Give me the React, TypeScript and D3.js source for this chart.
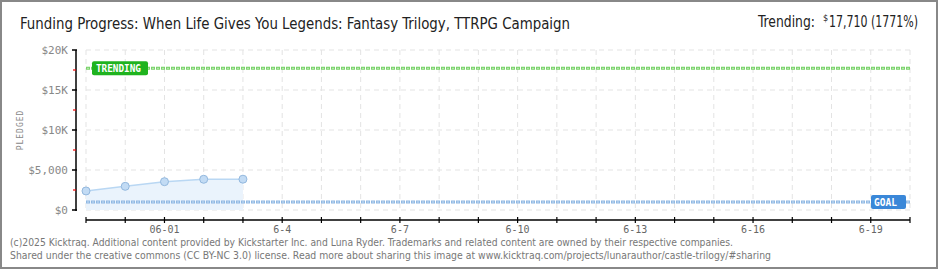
import React from "react";
import * as d3 from "d3";

const dates = ["5-30", "5-31", "6-1", "6-2", "6-3", "6-4", "6-5", "6-6", "6-7", "6-8", "6-9", "6-10", "6-11", "6-12", "6-13", "6-14", "6-15", "6-16", "6-17", "6-18", "6-19", "6-20"];
const pledged = [2380, 2960, 3540, 3840, 3850];
const xLabels: { i: number; t: string }[] = [
  { i: 2, t: "06-01" }, { i: 5, t: "6-4" }, { i: 8, t: "6-7" }, { i: 11, t: "6-10" },
  { i: 14, t: "6-13" }, { i: 17, t: "6-16" }, { i: 20, t: "6-19" },
];
const yTicks = [0, 5000, 10000, 15000, 20000];
const yTickLabels = ["$0", "$5,000", "$10K", "$15K", "$20K"];
const yMinor = [2500, 7500, 12500, 17500];
const goal = 1000;
const trending = 17710;

const W = 940, H = 270;
const x0 = 86, x1 = 910, y0 = 210, y1 = 50;

export default function App() {
  const x = d3.scaleLinear().domain([0, dates.length - 1]).range([x0, x1]);
  const y = d3.scaleLinear().domain([0, 20000]).range([y0, y1]);
  const area = d3.area<number>().x((_, i) => x(i)).y0(y(0)).y1((d) => y(d));
  const line = d3.line<number>().x((_, i) => x(i)).y((d) => y(d));
  const pixelFont = "'DejaVu Sans Mono', monospace";
  const headFont = "'DejaVu Sans Condensed', sans-serif";
  return (
    <svg width={W} height={H} style={{ position: "absolute", left: 0, top: 0, background: "#fff" }}>
      <rect x={1} y={1} width={936} height={267} fill="#fff" stroke="#888" strokeWidth={2} />
      <text x={20} y={29} fontFamily={headFont} fontSize={16} fill="#222"
        textLength={550} lengthAdjust="spacingAndGlyphs">
        Funding Progress: When Life Gives You Legends: Fantasy Trilogy, TTRPG Campaign
      </text>
      <text x={758} y={27} fontFamily={headFont} fontSize={15} fill="#222"
        textLength={57} lengthAdjust="spacingAndGlyphs">Trending:</text>
      <text x={823} y={21} fontFamily={headFont} fontSize={9} fill="#222">$</text>
      <text x={829} y={27} fontFamily={headFont} fontSize={15} fill="#222"
        textLength={89} lengthAdjust="spacingAndGlyphs">17,710 (1771%)</text>

      {/* grid */}
      {yTicks.map((v) => (
        <line key={"gy" + v} x1={x0} x2={x1} y1={y(v)} y2={y(v)} stroke="#e3e3e3" strokeDasharray="5,4" />
      ))}
      {dates.map((d, i) => (
        <line key={"gx" + d} x1={x(i)} x2={x(i)} y1={y1} y2={y0} stroke="#e3e3e3" strokeDasharray="5,4" />
      ))}

      {/* area */}
      <path d={area(pledged) || ""} fill="#eaf3fc" />
      <path d={line(pledged) || ""} fill="none" stroke="#b9d7f3" strokeWidth={1.5} />

      {/* goal line */}
      <line x1={x0} x2={x1} y1={y(goal)} y2={y(goal)} stroke="#8fb8e3" strokeWidth={3} strokeDasharray="4,1" />
      <line x1={x0} x2={x1} y1={y(goal)} y2={y(goal)} stroke="#c9def3" strokeWidth={1} strokeDasharray="2,3" strokeDashoffset={-1} />
      {/* trending line */}
      <line x1={x0} x2={x1} y1={y(trending)} y2={y(trending)} stroke="#79d26a" strokeWidth={3} strokeDasharray="4,1" />
      <line x1={x0} x2={x1} y1={y(trending)} y2={y(trending)} stroke="#bdebb4" strokeWidth={1} strokeDasharray="2,3" strokeDashoffset={-1} />

      {pledged.map((v, i) => (
        <circle key={"p" + i} cx={x(i)} cy={y(v)} r={4} fill="#c2dbf4" stroke="#93b8de" strokeWidth={1} />
      ))}

      {/* trending label */}
      <rect x={92} y={y(trending) - 7} width={56} height={14} rx={2} fill="#1fb31f" />
      <text x={96} y={y(trending) + 4} fontFamily={pixelFont} fontSize={10} fontWeight="bold" fill="#fff"
        textLength={45} lengthAdjust="spacingAndGlyphs">TRENDING</text>
      {/* goal label */}
      <rect x={871} y={y(goal) - 7} width={35} height={14} rx={2} fill="#3a87d8" />
      <text x={874} y={y(goal) + 4} fontFamily={pixelFont} fontSize={10} fontWeight="bold" fill="#fff"
        textLength={23} lengthAdjust="spacingAndGlyphs">GOAL</text>

      {/* y axis */}
      <line x1={76} x2={76} y1={y1} y2={y0 + 1} stroke="#000" strokeWidth={1.5} />
      {yTicks.map((v, i) => (
        <g key={"yt" + v}>
          <line x1={72} x2={77} y1={y(v)} y2={y(v)} stroke="#000" strokeWidth={1.5} />
          <text x={68} y={y(v) + 4} textAnchor="end" fontFamily={pixelFont} fontSize={11} fill="#888">{yTickLabels[i]}</text>
        </g>
      ))}
      {yMinor.map((v) => (
        <line key={"ym" + v} x1={73} x2={76} y1={y(v)} y2={y(v)} stroke="#e00" strokeWidth={1.2} />
      ))}
      <text transform="translate(23,130) rotate(-90)" textAnchor="middle" fontFamily={pixelFont} fontSize={8} fill="#888" letterSpacing={1}>PLEDGED</text>

      {/* x axis */}
      <line x1={x0} x2={x1} y1={220} y2={220} stroke="#000" strokeWidth={1.5} />
      {dates.map((d, i) => (
        <line key={"xt" + d} x1={x(i)} x2={x(i)} y1={217} y2={223} stroke="#000" strokeWidth={1.2} />
      ))}
      {xLabels.map((l) => (
        <text key={"xl" + l.t} x={x(l.i)} y={233} textAnchor="middle" fontFamily={pixelFont} fontSize={10} fill="#666">{l.t}</text>
      ))}

      {/* footer */}
      <text x={10} y={246} fontFamily="'DejaVu Sans', Verdana, sans-serif" fontSize={10.5} fill="#777"
        textLength={723} lengthAdjust="spacingAndGlyphs">
        (c)2025 Kicktraq. Additional content provided by Kickstarter Inc. and Luna Ryder. Trademarks and related content are owned by their respective companies.
      </text>
      <text x={10} y={259} fontFamily="'DejaVu Sans', Verdana, sans-serif" fontSize={10.5} fill="#777"
        textLength={761} lengthAdjust="spacingAndGlyphs">
        Shared under the creative commons (CC BY-NC 3.0) license. Read more about sharing this image at www.kicktraq.com/projects/lunarauthor/castle-trilogy/#sharing
      </text>
    </svg>
  );
}
